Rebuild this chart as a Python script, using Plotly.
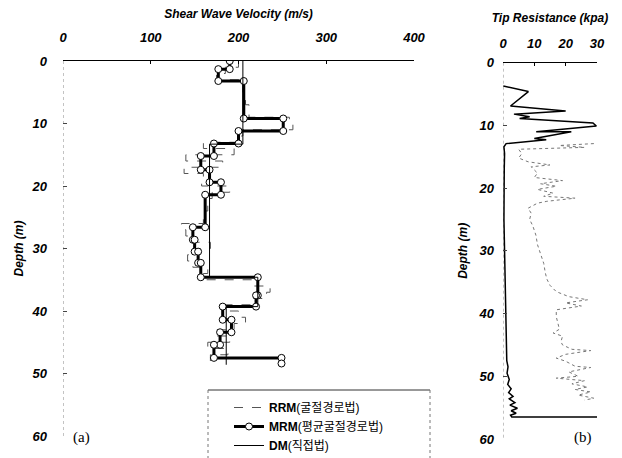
import plotly.graph_objects as go

# ---- Shear wave velocity profiles (layer boundaries in m, velocity in m/s) ----
rrm_bounds = [0, 1, 2, 3, 5, 7, 9, 10, 11, 12, 13, 14, 15, 16, 17, 18, 19, 20, 21, 22,
              24, 26, 27, 28, 29, 30, 31, 32, 33, 34, 35, 36, 37, 38, 39, 40, 41, 42,
              43, 44, 45, 46, 47, 48]
rrm_vs = [200, 185, 175, 205, 208, 212, 258, 262, 205, 198,
          160, 195, 140, 182, 138, 160, 158, 190, 170, 165,
          160, 135, 140, 145, 168, 150, 142, 148, 165, 160,
          215, 236, 232, 215, 185, 200, 208, 195, 174, 190,
          165, 188, 168]

mrm_bounds = [0, 1.3, 3.2, 9.2, 11.2, 13.2, 15.2, 17.4, 19.4, 21.4, 26.6, 28.6,
              30.5, 32.3, 34.6, 37.5, 39.3, 41.4, 43.4, 45.4, 47.5, 48.4]
mrm_vs = [190, 177, 206, 251, 200, 172, 157, 167, 180, 162, 148,
          150, 154, 157, 222, 220, 182, 192, 179, 172, 249]

dm_bounds = [0, 13.3, 34.6, 39.3, 48.6]
dm_vs = [205, 167, 222, 186]

# ---- Cone tip resistance (depth in m, kpa) ----
tip_depth = [3.7, 4.6, 6.9, 7.7, 8.2, 8.6, 8.9, 9.6, 10.1, 11.0,
             11.0, 12.1, 12.3, 12.9, 13.4, 14.5, 17, 20, 25, 30,
             35, 40, 45, 47.5, 48.5, 49.5, 50.5, 51.3, 52, 52.6,
             53.2, 53.6, 54.2, 54.6, 55.1, 55.5, 55.9, 56.2, 56.5, 56.5]
tip_q = [0.1, 8.1, 2.4, 20, 3.5, 8.5, 5.3, 28.7, 29.8, 10.6,
         21.8, 10, 13.8, 1, 0.3, 0.5, 0.4, 0.3, 0.3, 0.5,
         0.7, 0.8, 1.0, 1.2, 1.6, 1.3, 2.0, 1.5, 2.6, 1.8,
         3.2, 2.0, 3.8, 2.2, 4.6, 2.6, 4.2, 2.4, 2.8, 30]

aux_depth = [12.9, 13.2, 13.5, 13.8, 14.5, 15.2, 15.8, 16.3, 16.6, 17.6,
             18.3, 18.8, 19.3, 19.7, 20.2, 20.8, 21.3, 21.6, 22.1, 22.4,
             23.2, 24.0, 25.0, 26.0, 27.5, 29.0, 30.5, 32.0, 33.5, 34.5,
             35.5, 36.5, 37.3, 37.8, 38.3, 38.8, 39.4, 40.5, 41.5, 42.5,
             43.1, 43.6, 44.5, 45.0, 45.7, 45.9, 46.5, 47.1, 47.6, 48.4,
             48.6, 49.3, 50.0, 50.3, 50.7, 51.2, 51.7, 52.1, 52.5, 53.0,
             53.5, 53.8]
aux_q = [29, 18, 26, 5, 6, 5, 8, 15, 9, 11,
         10, 19, 12, 17, 11, 16, 13, 23, 14, 11,
         8, 9, 8.5, 9.5, 10.5, 11, 12, 13, 13.5, 14,
         15, 17, 21, 27, 20, 25, 17, 17, 17.5, 18,
         16, 19, 18.5, 19, 22, 28, 20, 17, 20, 23,
         28, 21, 24, 17, 26, 22, 27, 23, 28, 24,
         29, 26]

vel_ticks = [0, 100, 200, 300, 400]
tip_ticks = [0, 10, 20, 30]
depth_ticks = [0, 10, 20, 30, 40, 50, 60]


def step_path(bounds, vals):
    xs, ys = [], []
    for i, v in enumerate(vals):
        xs += [v, v]
        ys += [bounds[i], bounds[i + 1]]
    return xs, ys


W, H = 622, 458


def px(x):
    return x / W


def py(y):
    return 1 - y / H


fig = go.Figure()

rx, ry = step_path(rrm_bounds, rrm_vs)
fig.add_trace(go.Scatter(x=rx, y=ry, mode="lines", name="<b>RRM</b>(굴절경로법)",
                         line=dict(color="#555555", width=1, dash="dash"),
                         xaxis="x", yaxis="y"))
mx, my = step_path(mrm_bounds, mrm_vs)
fig.add_trace(go.Scatter(x=mx, y=my, mode="lines+markers", name="<b>MRM</b>(평균굴절경로법)",
                         line=dict(color="black", width=3),
                         marker=dict(symbol="circle", size=7, color="white",
                                     line=dict(color="black", width=1)),
                         xaxis="x", yaxis="y"))
dx, dy = step_path(dm_bounds, dm_vs)
fig.add_trace(go.Scatter(x=dx, y=dy, mode="lines", name="<b>DM</b>(직접법)",
                         line=dict(color="black", width=1),
                         xaxis="x", yaxis="y"))

fig.add_trace(go.Scatter(x=aux_q, y=aux_depth, mode="lines", showlegend=False,
                         line=dict(color="#777777", width=1, dash="dot"),
                         xaxis="x2", yaxis="y2"))
fig.add_trace(go.Scatter(x=tip_q, y=tip_depth, mode="lines", showlegend=False,
                         line=dict(color="black", width=1.5),
                         xaxis="x2", yaxis="y2"))

tick_font = dict(family="Liberation Sans, Arial, sans-serif", size=13,
                 color="black", weight="bold", style="italic")
title_font = dict(family="Liberation Sans, Arial, sans-serif", size=12,
                  color="black", weight="bold", style="italic")

common_x = dict(side="top", showline=True, linecolor="black", linewidth=1,
                ticks="inside", ticklen=3, tickcolor="black", showgrid=False,
                zeroline=False, tickfont=tick_font, fixedrange=True, automargin=False)
common_y = dict(range=[60, 0], tickvals=depth_ticks, showline=False,
                ticks="inside", ticklen=4, tickcolor="#444444", showgrid=False,
                zeroline=False, tickfont=tick_font, fixedrange=True, automargin=False)

fig.update_layout(
    template="none",
    width=W, height=H,
    margin=dict(l=0, r=0, t=0, b=0, autoexpand=False),
    paper_bgcolor="white", plot_bgcolor="white",
    xaxis=dict(common_x, domain=[px(63), px(414)], range=[0, 400], tickvals=vel_ticks,
               anchor="y", ticklabelstandoff=13,
               title=dict(text="Shear Wave Velocity (m/s)", font=title_font, standoff=8)),
    yaxis=dict(common_y, domain=[py(436), py(61)], anchor="x", ticklabelstandoff=15,
               title=dict(text="Depth (m)", font=title_font, standoff=5)),
    xaxis2=dict(common_x, domain=[px(503), px(597)], range=[0, 30], tickvals=tip_ticks,
                anchor="y2", ticklabelstandoff=9,
                title=dict(text="Tip Resistance (kpa)", font=title_font, standoff=10)),
    yaxis2=dict(common_y, domain=[py(439), py(62.7)], anchor="x2", ticklabelstandoff=8,
                title=dict(text="Depth (m)", font=title_font, standoff=8)),
    legend=dict(x=px(229), y=py(393), xanchor="left", yanchor="top",
                bgcolor="rgba(0,0,0,0)", borderwidth=0, tracegroupgap=0,
                font=dict(family="Liberation Sans, Noto Sans CJK KR, sans-serif",
                          size=12, color="black")),
    showlegend=True,
)

# faint broken depth axes
for xr, yr in (("x", "y"), ("x2", "y2")):
    fig.add_shape(type="line", xref=xr, yref=yr, x0=0, x1=0, y0=0, y1=60,
                  line=dict(color="#888888", width=1, dash="dot"), layer="below")

# legend frame
fig.add_shape(type="line", xref="paper", yref="paper", x0=px(208), x1=px(430),
              y0=py(390), y1=py(390), line=dict(color="#333333", width=1))
for xe in (208, 430):
    fig.add_shape(type="line", xref="paper", yref="paper", x0=px(xe), x1=px(xe),
                  y0=py(390), y1=py(460), line=dict(color="#777777", width=1, dash="dot"))

panel_font = dict(family="Liberation Serif, Times New Roman, serif", size=15, color="black")
fig.add_annotation(text="(a)", xref="paper", yref="paper", x=px(81), y=py(437),
                   xanchor="center", yanchor="middle", showarrow=False, font=panel_font)
fig.add_annotation(text="(b)", xref="paper", yref="paper", x=px(583), y=py(437),
                   xanchor="center", yanchor="middle", showarrow=False, font=panel_font)

fig.write_html("out.html")
